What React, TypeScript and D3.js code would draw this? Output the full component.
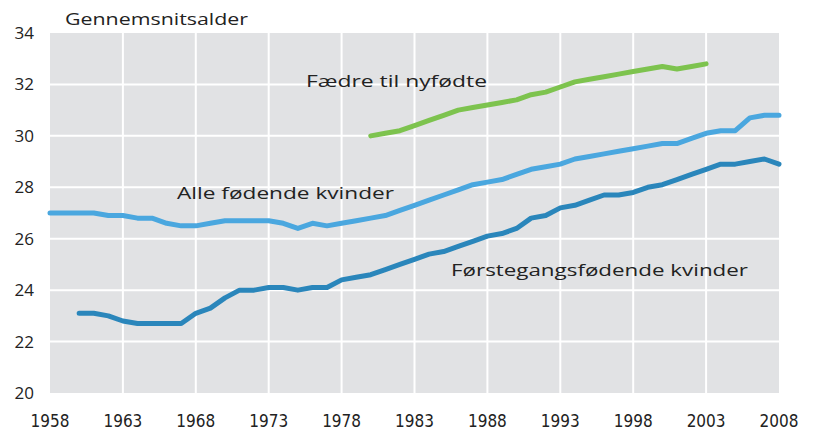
import React from "react";
import * as d3 from "d3";

const alleYears: number[] = d3.range(1958, 2009);
const alleValues: number[] = [
  27.0, 27.0, 27.0, 27.0, 26.9, 26.9, 26.8, 26.8, 26.6, 26.5,
  26.5, 26.6, 26.7, 26.7, 26.7, 26.7, 26.6, 26.4, 26.6, 26.5,
  26.6, 26.7, 26.8, 26.9, 27.1, 27.3, 27.5, 27.7, 27.9, 28.1,
  28.2, 28.3, 28.5, 28.7, 28.8, 28.9, 29.1, 29.2, 29.3, 29.4,
  29.5, 29.6, 29.7, 29.7, 29.9, 30.1, 30.2, 30.2, 30.7, 30.8, 30.8,
];
const forsteYears: number[] = d3.range(1960, 2009);
const forsteValues: number[] = [
  23.1, 23.1, 23.0, 22.8, 22.7, 22.7, 22.7, 22.7, 23.1, 23.3,
  23.7, 24.0, 24.0, 24.1, 24.1, 24.0, 24.1, 24.1, 24.4, 24.5,
  24.6, 24.8, 25.0, 25.2, 25.4, 25.5, 25.7, 25.9, 26.1, 26.2,
  26.4, 26.8, 26.9, 27.2, 27.3, 27.5, 27.7, 27.7, 27.8, 28.0,
  28.1, 28.3, 28.5, 28.7, 28.9, 28.9, 29.0, 29.1, 28.9,
];
const faedreYears: number[] = d3.range(1980, 2004);
const faedreValues: number[] = [
  30.0, 30.1, 30.2, 30.4, 30.6, 30.8, 31.0, 31.1, 31.2, 31.3,
  31.4, 31.6, 31.7, 31.9, 32.1, 32.2, 32.3, 32.4, 32.5, 32.6,
  32.7, 32.6, 32.7, 32.8,
];
const xTicks: number[] = [1958, 1963, 1968, 1973, 1978, 1983, 1988, 1993, 1998, 2003, 2008];
const yTicks: number[] = [20, 22, 24, 26, 28, 30, 32, 34];

const W = 820;
const H = 446;
const left = 50;
const right = 779;
const top = 33;
const bottom = 393;

export default function App() {
  const x = d3.scaleLinear().domain([1958, 2008]).range([left, right]);
  const y = d3.scaleLinear().domain([20, 34]).range([bottom, top]);
  const line = d3
    .line<[number, number]>()
    .x((d) => x(d[0]))
    .y((d) => y(d[1]));
  const series = [
    { years: alleYears, values: alleValues, color: "#4aa7df" },
    { years: forsteYears, values: forsteValues, color: "#2a86bb" },
    { years: faedreYears, values: faedreValues, color: "#7dc34e" },
  ];
  const font = "'Open Sans', 'Noto Sans', sans-serif";
  const narrow = "'Liberation Sans Narrow', 'DejaVu Sans Condensed', sans-serif";
  return (
    <svg width={W} height={H} style={{ position: "absolute", left: 0, top: 0, background: "#fff" }}>
      <rect x={left} y={top} width={right - left} height={bottom - top} fill="#e1e2e4" />
      {yTicks.slice(1, -1).map((t) => (
        <line key={"h" + t} x1={left} x2={right} y1={y(t)} y2={y(t)} stroke="#fff" strokeWidth={2} />
      ))}
      {xTicks.slice(1, -1).map((t) => (
        <line key={"v" + t} x1={x(t)} x2={x(t)} y1={top} y2={bottom} stroke="#fff" strokeWidth={2} />
      ))}
      {series.map((s, i) => (
        <path
          key={i}
          d={line(s.years.map((yr, j) => [yr, s.values[j]] as [number, number])) || ""}
          fill="none"
          stroke={s.color}
          strokeWidth={5}
          strokeLinejoin="round"
          strokeLinecap="round"
        />
      ))}
      {yTicks.map((t) => (
        <text key={"yl" + t} x={34} y={y(t)} dy="0.35em" textAnchor="end" fontFamily={font} fontSize={17} fill="#222">
          {t}
        </text>
      ))}
      {xTicks.map((t) => (
        <text key={"xl" + t} x={x(t)} y={427} textAnchor="middle" fontFamily={narrow} fontSize={17} fill="#222">
          {t}
        </text>
      ))}
      <text x={65} y={25} fontFamily={font} fontSize={17} fill="#222" textLength={183} lengthAdjust="spacingAndGlyphs">
        Gennemsnitsalder
      </text>
      <text x={306} y={87} fontFamily={font} fontSize={17} fill="#222" textLength={181} lengthAdjust="spacingAndGlyphs">
        Fædre til nyfødte
      </text>
      <text x={177} y={199} fontFamily={font} fontSize={17} fill="#222" textLength={217} lengthAdjust="spacingAndGlyphs">
        Alle fødende kvinder
      </text>
      <text x={451} y={276} fontFamily={font} fontSize={17} fill="#222" textLength={297} lengthAdjust="spacingAndGlyphs">
        Førstegangsfødende kvinder
      </text>
    </svg>
  );
}
